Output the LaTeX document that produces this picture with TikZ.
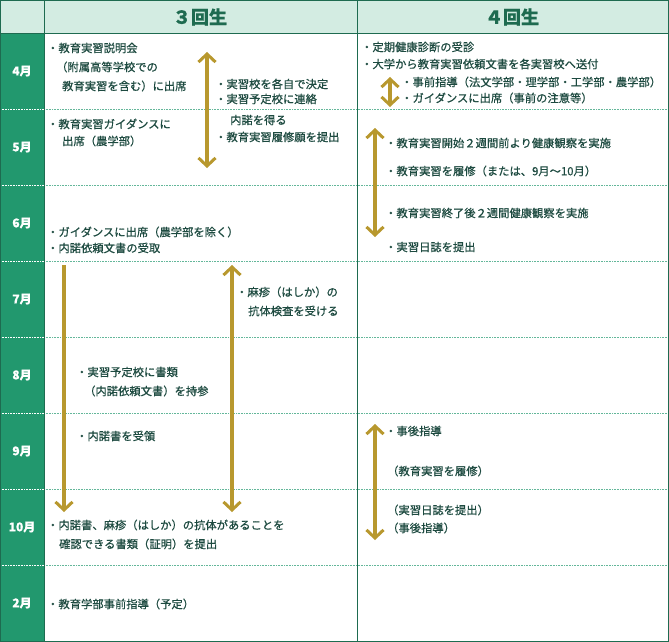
\documentclass[tikz,border=0pt]{standalone}
\usepackage{fontspec}
\setmainfont{Noto Sans CJK JP}[FakeBold=0.6]
\usetikzlibrary{arrows.meta}
\definecolor{dg}{HTML}{1E6B50}
\definecolor{mg}{HTML}{22986E}
\definecolor{hb}{HTML}{D3ECE2}
\definecolor{tx}{HTML}{1D4A40}
\definecolor{au}{HTML}{B8982E}
\begin{document}
\begin{tikzpicture}[x=1pt,y=-1pt,
 t/.style={anchor=west,inner sep=0,font=\fontsize{11.3}{12}\selectfont,text=tx},
 mo/.style={font=\fontsize{12}{13}\selectfont\bfseries,text=white},
 hd/.style={font=\fontsize{18}{19}\selectfont\bfseries,text=dg},
 ar/.style={au,line width=3.2pt,arrows={Straight Barb[length=8pt,width=17pt,line width=3pt]-Straight Barb[length=8pt,width=17pt,line width=3pt]}},
 ad/.style={au,line width=3.2pt,arrows={-Straight Barb[length=8pt,width=17pt,line width=3pt]}}]
\useasboundingbox (0,0) rectangle (669,642);
\fill[white] (0,0) rectangle (669,642);
\fill[hb] (0,0) rectangle (669,33);
\fill[mg] (0,33) rectangle (44,642);
\foreach \y in {109,185,261,337,413,489,565}
  \draw[mg!70,densely dotted,line width=0.6pt] (44,\y) -- (668,\y);
\foreach \y in {109,185,261,337,413,489,565}
  \draw[white,densely dotted,line width=0.6pt] (0,\y) -- (44,\y);
\draw[dg,line width=0.9pt] (0.5,0.5) rectangle (668.5,641.5);
\draw[dg,line width=0.9pt] (0,33) -- (669,33);
\draw[dg,line width=0.9pt] (44,0) -- (44,642);
\draw[dg,line width=0.9pt] (357,0) -- (357,642);
\node[hd] (h3) at (200,17) {３回生};
\node[hd] (h4) at (512,17) {４回生};
\foreach \m/\y in {4月/71,5月/147,6月/223,7月/299,8月/375,9月/451,10月/527,2月/603}
  \node[mo] at (22,\y) {\m};
% 3rd year
\node[t] at (47,48) {・教育実習説明会};
\node[t] at (56,67) {（附属高等学校での};
\node[t] at (62,86) {教育実習を含む）に出席};
\node[t] at (215,84) {・実習校を各自で決定};
\node[t] at (215,99) {・実習予定校に連絡};
\node[t] at (230,120) {内諾を得る};
\node[t] at (215,137) {・教育実習履修願を提出};
\node[t] at (47,124) {・教育実習ガイダンスに};
\node[t] at (62,141) {出席（農学部）};
\node[t] at (47,232) {・ガイダンスに出席（農学部を除く）};
\node[t] at (47,248) {・内諾依頼文書の受取};
\node[t] at (236,292) {・麻疹（はしか）の};
\node[t] at (248,311) {抗体検査を受ける};
\node[t] at (76,372) {・実習予定校に書類};
\node[t] at (84,391) {（内諾依頼文書）を持参};
\node[t] at (76,436) {・内諾書を受領};
\node[t] at (47,525) {・内諾書、麻疹（はしか）の抗体があることを};
\node[t] at (59,544) {確認できる書類（証明）を提出};
\node[t] at (47,604) {・教育学部事前指導（予定）};
\coordinate (a1s) at (207,52); \coordinate (a1e) at (207,168);
\draw[ar] (a1s) -- (a1e);
\coordinate (a2s) at (64,265); \coordinate (a2e) at (64,512);
\draw[ad] (a2s) -- (a2e);
\coordinate (a3s) at (232,265); \coordinate (a3e) at (232,512);
\draw[ar] (a3s) -- (a3e);
% 4th year
\node[t] at (361,47) {・定期健康診断の受診};
\node[t] at (361,64) {・大学から教育実習依頼文書を各実習校へ送付};
\node[t] at (401,82) {・事前指導（法文学部・理学部・工学部・農学部）};
\node[t] at (401,98) {・ガイダンスに出席（事前の注意等）};
\node[t] at (385,143) {・教育実習開始２週間前より健康観察を実施};
\node[t] at (385,171) {・教育実習を履修（または、9月～10月）};
\node[t] at (385,213) {・教育実習終了後２週間健康観察を実施};
\node[t] at (385,247) {・実習日誌を提出};
\node[t] at (385,431) {・事後指導};
\node[t] at (387,471) {（教育実習を履修）};
\node[t] at (387,510) {（実習日誌を提出）};
\node[t] at (387,528) {（事後指導）};
\coordinate (b1s) at (390,77); \coordinate (b1e) at (390,107);
\draw[ar] (b1s) -- (b1e);
\coordinate (b2s) at (375,128); \coordinate (b2e) at (375,237);
\draw[ar] (b2s) -- (b2e);
\coordinate (b3s) at (375,424); \coordinate (b3e) at (375,540);
\draw[ar] (b3s) -- (b3e);
\end{tikzpicture}
\end{document}
